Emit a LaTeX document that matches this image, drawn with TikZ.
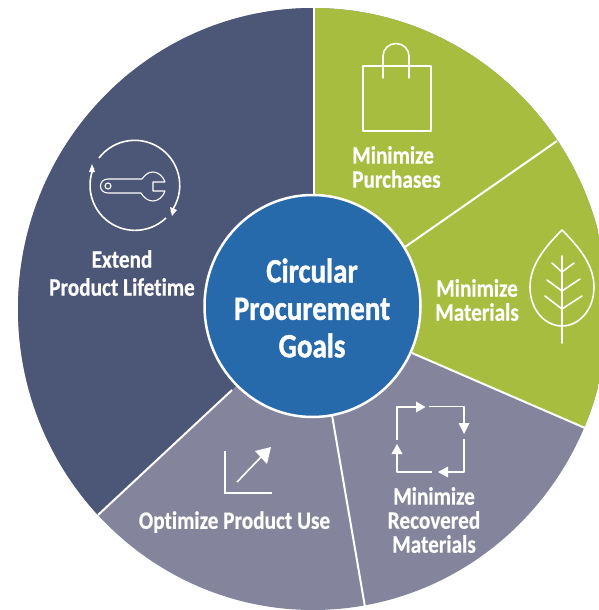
\documentclass[tikz,border=0pt]{standalone}
\usepackage{fontspec}
\setmainfont{Carlito}[BoldFont=Carlito Bold,BoldFeatures={FakeStretch=0.85,FakeBold=0.5,Ligatures=NoCommon}]
\newfontfamily\hubfont{Carlito Bold}[FakeStretch=0.85,FakeBold=1.2,Ligatures=NoCommon]
\definecolor{navy}{HTML}{4C5778}
\definecolor{leafgreen}{HTML}{A6BD3F}
\definecolor{slate}{HTML}{84849C}
\definecolor{hub}{HTML}{266AAB}
\tikzset{
  divider/.style={draw=white,line width=2pt},
  icon/.style={draw=white,line width=1.6pt,line join=round,line cap=round},
  thin icon/.style={draw=white,line width=1.1pt,line join=round},
  tip/.style={fill=white,draw=none},
  seglabel/.style={text=white,align=center,inner sep=0pt,font=\bfseries\fontsize{25}{24}\selectfont},
  hublabel/.style={text=white,align=center,inner sep=0pt,font=\hubfont\fontsize{34}{37.5}\selectfont}
}
\begin{document}
\begin{tikzpicture}[x=1pt,y=-1pt]
\useasboundingbox (0,0) rectangle (599,610);
\clip (0,0) rectangle (599,610);
% sectors
\begin{scope}
  \clip (313,309) ellipse [x radius=295,y radius=301];
  \fill[slate] (0,0) rectangle (599,610);
  \fill[navy] (314,-5) -- (314,306) -- (232,390) -- (98,515) -- (-10,618) -- (-10,-5) -- cycle;
  \fill[leafgreen] (314,-5) -- (610,-5) -- (610,439) -- (412,353) -- (314,306) -- cycle;
\end{scope}
% dividers
\coordinate (d1a) at (314,8);   \coordinate (d1b) at (314,200);
\coordinate (d2a) at (557,141); \coordinate (d2b) at (405,247);
\coordinate (d3a) at (585,428); \coordinate (d3b) at (412,353);
\coordinate (d4a) at (365,607); \coordinate (d4b) at (332,415);
\coordinate (d5a) at (98,515);  \coordinate (d5b) at (232,390);
\draw[divider] (d1a) -- (d1b);
\draw[divider] (d2a) -- (d2b);
\draw[divider] (d3a) -- (d3b);
\draw[divider] (d4a) -- (d4b);
\draw[divider] (d5a) -- (d5b);
% hub
\fill[hub,draw=white,line width=2.5pt] (312.5,306) ellipse [x radius=108,y radius=111];
\node[hublabel] (hubtext) at (312,308) {Circular\\Procurement\\Goals};
% bag
\draw[icon] (363,66) rectangle (431,131);
\draw[icon] (383,78) -- (383,56) arc[start angle=180,end angle=360,x radius=13,y radius=12.5] -- (409,78);
\node[seglabel,align=left,anchor=west] (purch) at (352,167) {Minimize\\Purchases};
% leaf
\draw[icon] (562,230) .. controls (545,247) and (530,265) .. (530,287) .. controls (530,311) and (546,326) .. (562,326) .. controls (578,326) and (594,311) .. (594,287) .. controls (594,265) and (579,247) .. (562,230) -- cycle;
\draw[icon] (562,256) -- (562,343);
\draw[icon] (552,263) -- (562,272) -- (574,263);
\draw[icon] (547,280) -- (562,291) -- (580,279);
\draw[icon] (545,296) -- (562,309) -- (582,296);
\node[seglabel] (mat) at (477,300) {Minimize\\Materials};
% recycle square
\draw[icon,line cap=butt] (397,440) -- (397,407) -- (417,407);
\fill[tip] (425.5,407) -- (416,401.5) -- (416,412.5) -- cycle;
\draw[icon,line cap=butt] (429,406.5) -- (464,406.5) -- (464,424);
\fill[tip] (464,434) -- (458.5,423) -- (469.5,423) -- cycle;
\draw[icon,line cap=butt] (464,439) -- (464,472) -- (446,472);
\fill[tip] (438,472) -- (448,466.5) -- (448,477.5) -- cycle;
\draw[icon,line cap=butt] (432,472) -- (397,472) -- (397,452);
\fill[tip] (397,444) -- (391.5,454) -- (402.5,454) -- cycle;
\node[seglabel] (rec) at (434,520) {Minimize\\Recovered\\Materials};
% chart
\draw[icon,line cap=butt,line join=miter] (225,451) -- (225,493) -- (272,493);
\draw[icon,line cap=butt] (237,482) -- (262,456);
\fill[tip] (271,447) -- (255,451) -- (267,464) -- cycle;
\node[seglabel] (opt) at (234.5,522) {Optimize Product Use};
% wrench
\draw[icon,line cap=butt] (99,158) arc[start angle=217.4,end angle=396,radius=45];
\fill[tip] (172,216) -- (170,207) -- (177,210) -- cycle;
\draw[icon,line cap=butt] (166,218) arc[start angle=46.5,end angle=203,radius=45];
\fill[tip] (92,164) -- (89,172) -- (95,172) -- cycle;
\draw[thin icon] (142,179) .. controls (145,175) and (148,172) .. (153,172) .. controls (158,172) and (163,176) .. (165,182) -- (153,182) -- (153,191) -- (165,191) .. controls (163,197) and (158,201) .. (153,201) .. controls (148,201) and (144,198) .. (141,193) -- (108,193) .. controls (98,193) and (98,179) .. (108,179) -- cycle;
\draw[thin icon] (108,186) circle [radius=3];
\node[seglabel] (ext) at (122,273) {Extend\\[4pt]Product Lifetime};
\end{tikzpicture}
\end{document}
